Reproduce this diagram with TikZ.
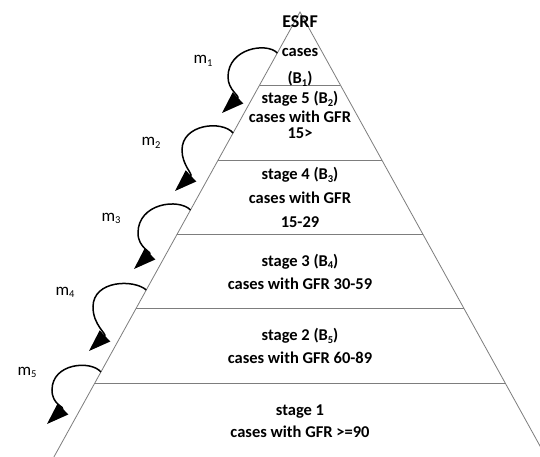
\documentclass[tikz,border=0pt]{standalone}
\usepackage{fontspec}
\setmainfont{Carlito}
\usetikzlibrary{arrows.meta}
\definecolor{edgegray}{RGB}{125,125,125}
\newcommand\lsub[1]{\raisebox{-0.35ex}{\fontsize{10.5}{10.5}\selectfont #1}}
\begin{document}
\begin{tikzpicture}[x=1pt,y=-1pt,
  edgeline/.style={draw=edgegray,line width=0.8pt},
  lbl/.style={font=\fontsize{16.5}{18}\selectfont\bfseries,anchor=base,inner sep=0pt},
  mlbl/.style={font=\fontsize{17}{18}\selectfont,anchor=base,inner sep=0pt},
  curvearrow/.style={line width=1.5pt,-{Triangle[length=22pt,width=15pt]}}]
\useasboundingbox (0,0) rectangle (540,457);
\fill[white] (0,0) rectangle (540,457);
% pyramid
\coordinate (A) at (300,12);
\coordinate (BL) at (53.9,457);
\coordinate (BR) at (546.1,457);
\begin{scope}
\clip (0,0) rectangle (540,457);
\draw[edgeline] (BL) -- (A) -- (BR);
\end{scope}
\coordinate (L1) at (259.6,85);  \coordinate (R1) at (340.4,85);
\coordinate (L2) at (218.2,160); \coordinate (R2) at (381.8,160);
\coordinate (L3) at (177.2,234); \coordinate (R3) at (422.8,234);
\coordinate (L4) at (136.0,308.5); \coordinate (R4) at (464.0,308.5);
\coordinate (L5) at (94.8,383);  \coordinate (R5) at (505.2,383);
\foreach \i in {1,...,5} {\draw[edgeline] (L\i) -- (R\i);}
% texts
\node[lbl,font=\fontsize{18}{20}\selectfont\bfseries] (esrf) at (300,28) {ESRF};
\node[lbl] (c1) at (300,56.5) {cases};
\node[lbl] (b1) at (300,84) {(B\lsub{1})};
\node[lbl] (s5) at (300,104) {stage 5 (B\lsub{2})};
\node[lbl] (g5) at (300,123) {cases with GFR};
\node[lbl] (v5) at (300,138.5) {15>};
\node[lbl] (s4) at (300,179.5) {stage 4 (B\lsub{3})};
\node[lbl] (g4) at (300,203) {cases with GFR};
\node[lbl] (v4) at (300,227) {15-29};
\node[lbl] (s3) at (300,266) {stage 3 (B\lsub{4})};
\node[lbl] (g3) at (300,289) {cases with GFR 30-59};
\node[lbl] (s2) at (300,340.7) {stage 2 (B\lsub{5})};
\node[lbl] (g2) at (300,363) {cases with GFR 60-89};
\node[lbl] (s1) at (300,415) {stage 1};
\node[lbl] (g1) at (300,437) {cases with GFR >=90};
% m labels
\node[mlbl] (m1) at (203,64) {m\lsub{1}};
\node[mlbl] (m2) at (151,146) {m\lsub{2}};
\node[mlbl] (m3) at (111,221) {m\lsub{3}};
\node[mlbl] (m4) at (65,295) {m\lsub{4}};
\node[mlbl] (m5) at (27,375) {m\lsub{5}};
% arrows
\coordinate (a1s) at (277.3,53);  \coordinate (a1l) at (228,77);  \coordinate (a1t) at (222,113);
\coordinate (a2s) at (233.1,133); \coordinate (a2l) at (182,150); \coordinate (a2t) at (175,191);
\coordinate (a3s) at (190.5,210); \coordinate (a3l) at (138,233); \coordinate (a3t) at (134,269);
\coordinate (a4s) at (146.3,290); \coordinate (a4l) at (93,307);  \coordinate (a4t) at (89,351);
\coordinate (a5s) at (100.9,372); \coordinate (a5l) at (52,390);  \coordinate (a5t) at (47,424);
\draw[curvearrow] (a1s) .. controls (267,42) and (228,48) .. (a1l) .. controls (228,90) and (240,96) .. (a1t);
\draw[curvearrow] (a2s) .. controls (222,120) and (182,124) .. (a2l) .. controls (182,165) and (193,174) .. (a2t);
\draw[curvearrow] (a3s) .. controls (179,198) and (138,203) .. (a3l) .. controls (138,248) and (152,252) .. (a3t);
\draw[curvearrow] (a4s) .. controls (134,279) and (93,280) .. (a4l) .. controls (93,325) and (107,334) .. (a4t);
\draw[curvearrow] (a5s) .. controls (91,360) and (52,363) .. (a5l) .. controls (52,405) and (65,407) .. (a5t);
\end{tikzpicture}
\end{document}
